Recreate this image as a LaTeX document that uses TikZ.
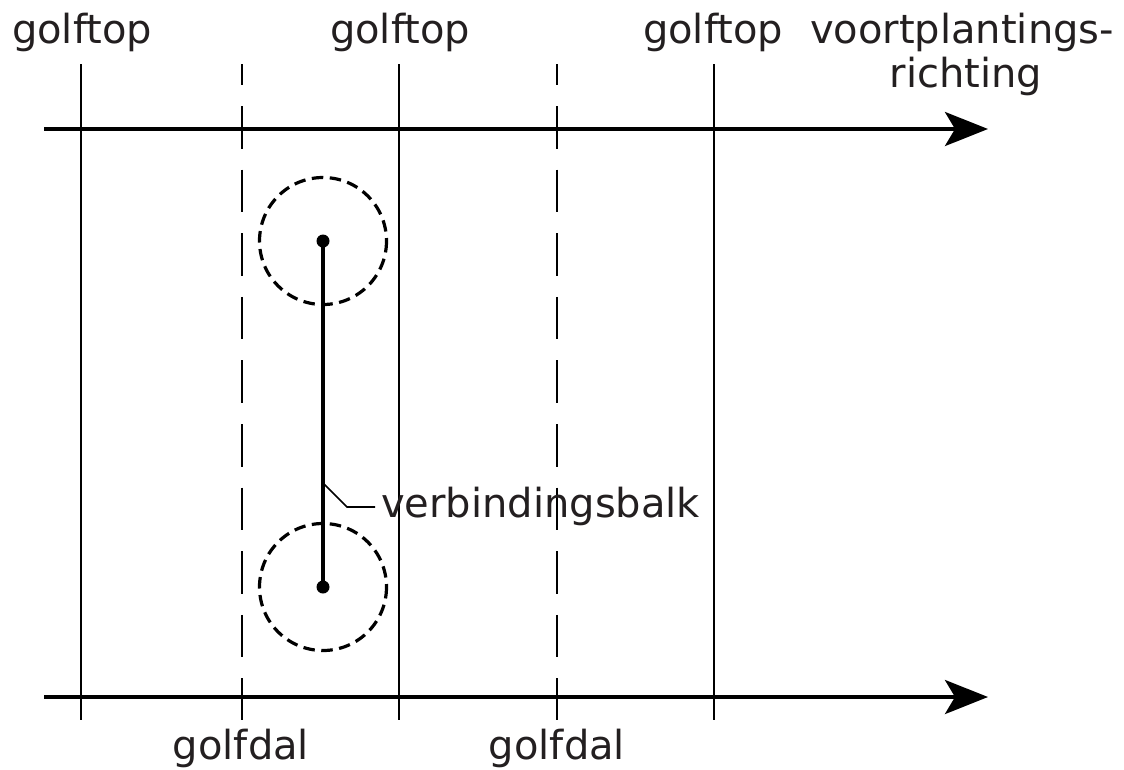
\documentclass[tikz,border=0pt]{standalone}
\usepackage{fontspec}
\setmainfont{DejaVu Sans}
\usetikzlibrary{arrows.meta}
\definecolor{txt}{HTML}{231F20}
\begin{document}
\begin{tikzpicture}[x=1pt,y=-1pt,
  lbl/.style={font=\fontsize{40}{44}\selectfont, text=txt, inner sep=0pt, anchor=base},
  axis/.style={line width=3.8pt, -{Stealth[length=43pt,width=34pt,inset=10pt]}},
  crest/.style={line width=2.4pt},
  trough/.style={line width=2.4pt, dash pattern=on 42.6pt off 21pt, dash phase=21.6pt},
  ring/.style={line width=3.2pt, dash pattern=on 11.5pt off 6.5pt},
  bar/.style={line width=3.8pt},
  leader/.style={line width=1.6pt}]
\path[use as bounding box] (0,0) rectangle (1124,769);

% axes
\coordinate (a1s) at (44,129); \coordinate (a1e) at (988,129);
\coordinate (a2s) at (44,697); \coordinate (a2e) at (988,697);
\draw[axis] (a1s) -- (a1e);
\draw[axis] (a2s) -- (a2e);

% wave crests (solid) and troughs (dashed)
\foreach \x/\n in {81/c1,399/c2,714/c3}{
  \coordinate (\n t) at (\x,64); \coordinate (\n b) at (\x,720);
  \draw[crest] (\n t) -- (\n b);
}
\foreach \x/\n in {242/d1,557/d2}{
  \coordinate (\n t) at (\x,64); \coordinate (\n b) at (\x,720);
  \draw[trough] (\n t) -- (\n b);
}

% dumbbell
\coordinate (m1) at (323,241);
\coordinate (m2) at (323,587);
\draw[ring] (m1) circle[radius=63.5];
\draw[ring] (m2) circle[radius=63.5];
\draw[bar] (m1) -- (m2);
\fill (m1) circle[radius=6.5];
\fill (m2) circle[radius=6.5];

% leader and label
\coordinate (lp) at (323,483);
\coordinate (lk) at (347,507);
\node[lbl, anchor=base west] (vb) at (381,517) {verbindingsbalk};
\coordinate (le) at (375,507);
\draw[leader] (lp) -- (lk) -- (le);

% labels
\node[lbl] (g1) at (82,43) {golftop};
\node[lbl] (g2) at (400,43) {golftop};
\node[lbl] (g3) at (713,43) {golftop};
\node[lbl] (vr) at (962,43) {voortplantings-};
\node[lbl] (vr2) at (966,87) {richting};
\node[lbl] (gd1) at (241,759) {golfdal};
\node[lbl] (gd2) at (557,759) {golfdal};
\end{tikzpicture}
\end{document}
